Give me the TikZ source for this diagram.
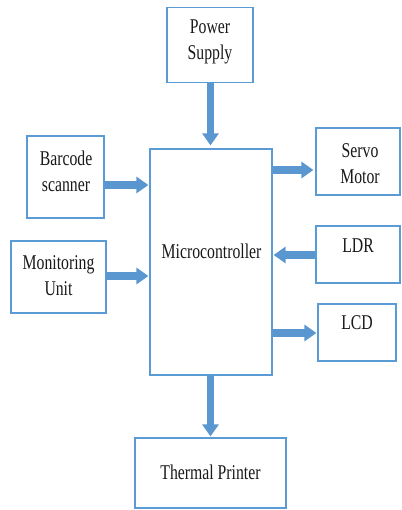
\documentclass[tikz,border=0pt]{standalone}
\usepackage{fontspec}
\setmainfont[FakeStretch=0.75]{Liberation Serif}
\usetikzlibrary{arrows.meta}
\definecolor{boxblue}{HTML}{5B9BD5}
\definecolor{arrblue}{HTML}{5A96CF}
\definecolor{arrdark}{HTML}{41719C}
\tikzset{
  box/.style={draw=boxblue, line width=1.2pt, fill=white, inner sep=0pt},
  lbl/.style={align=center, font=\fontsize{21}{26}\selectfont, text=black!90},
  arr/.style={draw=arrblue, line width=7.5pt,
    -{Triangle[length=12pt, width=16pt, fill=arrblue, color=arrblue]}, shorten >=0pt}
}
\begin{document}
\begin{tikzpicture}[x=1pt, y=-1pt]
\useasboundingbox (0,0) rectangle (401,510);
% boxes
\node[box, minimum width=86pt, minimum height=75pt] (ps) at (210,45) {};
\node[box, minimum width=122pt, minimum height=226pt] (mc) at (211,262) {};
\node[box, minimum width=77pt, minimum height=82pt] (bc) at (65.5,177) {};
\node[box, minimum width=95pt, minimum height=72pt] (mu) at (58.5,277) {};
\node[box, minimum width=84pt, minimum height=67pt] (sv) at (358,161.5) {};
\node[box, minimum width=84pt, minimum height=57pt] (ldr) at (358,254.5) {};
\node[box, minimum width=78pt, minimum height=57pt] (lcd) at (357,332.5) {};
\node[box, minimum width=151pt, minimum height=70pt] (tp) at (210.5,473) {};
% texts
\node[lbl] (tps) at (210,42) {Power\\Supply};
\node[lbl] (tbc) at (66,171.5) {Barcode\\scanner};
\node[lbl] (tmu) at (58.5,275.5) {Monitoring\\Unit};
\node[lbl] (tsv) at (360,163.5) {Servo\\Motor};
\node[lbl] (tmc) at (211.5,251) {Microcontroller};
\node[lbl] (tldr) at (358,246) {LDR};
\node[lbl] (tlcd) at (357,323) {LCD};
\node[lbl] (ttp) at (210.5,472) {Thermal Printer};
% arrows
\draw[arr] (ps.south -| 210.5,0) -- ([yshift=3pt]mc.north -| 210.5,0);
\draw[arr] (mc.south -| 210.5,0) -- ([yshift=1pt]tp.north -| 210.5,0);
\draw[arr] (bc.east |- 0,185) -- ([xshift=-1pt]mc.west |- 0,185);
\draw[arr] (mu.east |- 0,276) -- ([xshift=-1pt]mc.west |- 0,276);
\draw[arr] (mc.east |- 0,170) -- ([xshift=-2pt]sv.west |- 0,170);
\draw[arr] (ldr.west |- 0,255) -- ([xshift=1pt]mc.east |- 0,255);
\draw[arr] (mc.east |- 0,333) -- ([xshift=-1pt]lcd.west |- 0,333);
\end{tikzpicture}
\end{document}
